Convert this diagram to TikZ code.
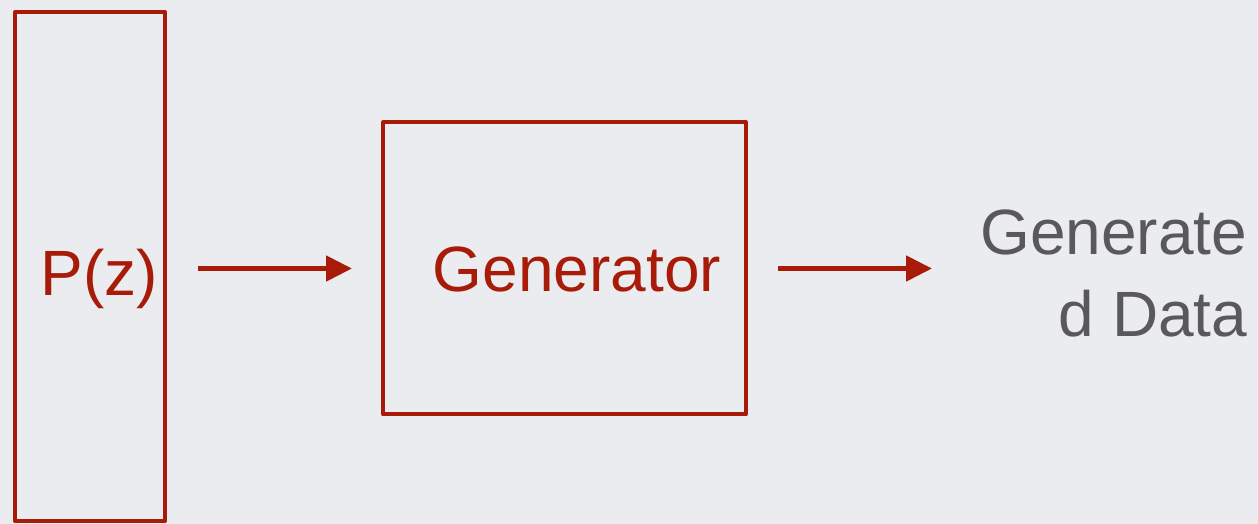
\documentclass[tikz,border=0pt]{standalone}
\usepackage{fontspec}
\setmainfont{Liberation Sans}
\usetikzlibrary{arrows.meta,positioning}

\definecolor{boxred}{HTML}{A81B08}
\definecolor{textgray}{HTML}{595959}
\definecolor{slidebg}{HTML}{EAECEF}

\begin{document}
\begin{tikzpicture}[
    box/.style={rectangle, draw=boxred, line width=2pt, line join=round, inner sep=0pt, outer sep=0pt},
    lbl/.style={text=boxred, font=\fontsize{32pt}{38pt}\selectfont, inner sep=0pt, anchor=base},
    outlbl/.style={text=textgray, font=\fontsize{32pt}{41pt}\selectfont, inner sep=0pt, align=right},
    arrow/.style={draw=boxred, line width=2.5pt, -{Triangle[length=13pt, width=12.5pt]}}]

    % Slide background
    \fill[slidebg] (0,0) rectangle (629pt,262pt);
    \useasboundingbox (0,0) rectangle (629pt,262pt);

    % Node for the noise prior
    \node [box, minimum width=75pt, minimum height=254.5pt] (pz) at (45pt,128.75pt) {};
    \node [lbl] (pzlabel) at ([xshift=4.75pt, yshift=-14.5pt]pz.center) {P(z)};

    % Node for the generator
    \node [box, minimum width=181.5pt, minimum height=146pt, right=109pt of pz, yshift=-1pt] (gen) {};
    \node [lbl] (genlabel) at ([xshift=6.25pt, yshift=-11.5pt]gen.center) {Generator};

    % Node for the output
    \node [outlbl, right=117pt of gen, yshift=-2.5pt] (out) {Generate\\d Data};

    % Draw the arrows
    \draw [arrow, shorten <=16.5pt, shorten >=15.5pt] (pz.east |- gen.west) -- (gen.west);
    \draw [arrow, shorten <=16pt, shorten >=24pt] (gen.east) -- (gen.east -| out.west);
\end{tikzpicture}
\end{document}
